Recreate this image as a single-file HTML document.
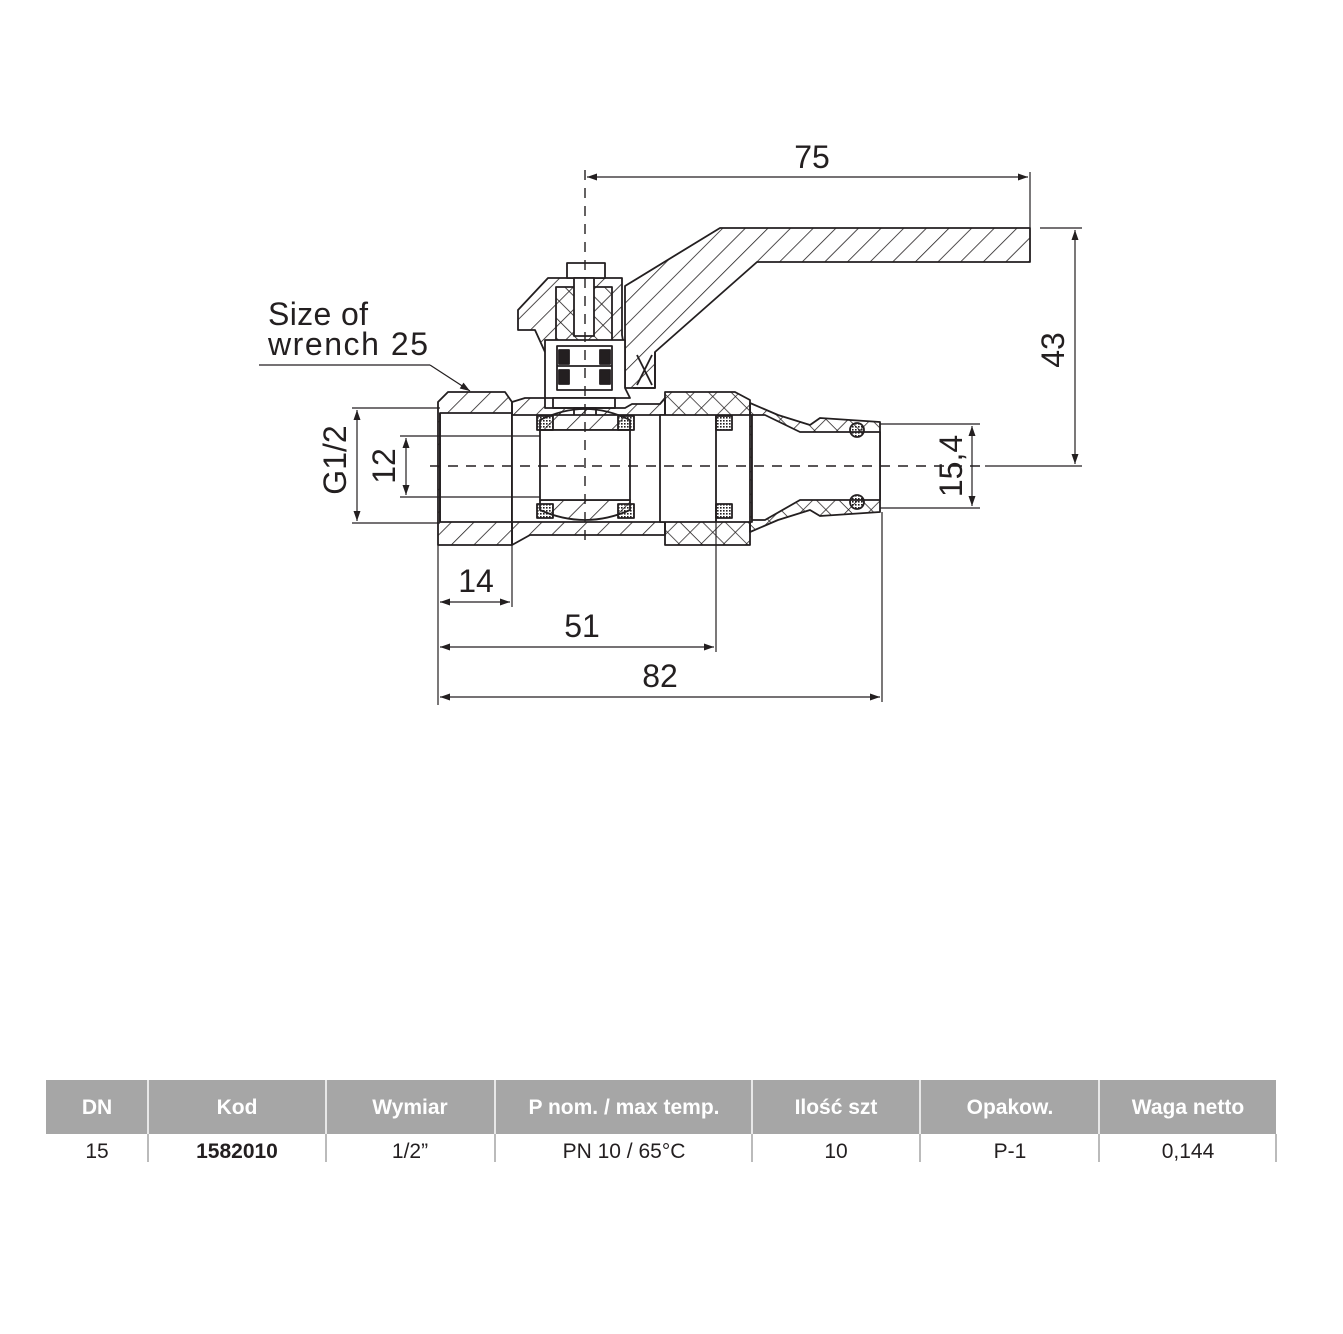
<!DOCTYPE html>
<html><head><meta charset="utf-8"><style>
html,body{margin:0;padding:0;background:#fff;}
svg{display:block;}
.t{font-family:"Liberation Sans",sans-serif;fill:#231f20;}
</style></head><body>
<svg width="1343" height="1334" viewBox="0 0 1343 1334" xmlns="http://www.w3.org/2000/svg">
<defs>
<pattern id="h" width="16" height="16" patternUnits="userSpaceOnUse" patternTransform="rotate(45)"><line x1="0" y1="0" x2="0" y2="16" stroke="#231f20" stroke-width="1.6"/></pattern>
<pattern id="h2" width="14" height="14" patternUnits="userSpaceOnUse" patternTransform="rotate(-45)"><line x1="0" y1="0" x2="0" y2="14" stroke="#231f20" stroke-width="1.6"/></pattern>
<pattern id="x" width="16" height="16" patternUnits="userSpaceOnUse" patternTransform="rotate(45)"><line x1="0" y1="0" x2="0" y2="16" stroke="#231f20" stroke-width="1.5"/><line x1="0" y1="0" x2="16" y2="0" stroke="#231f20" stroke-width="1.5"/></pattern>
<pattern id="d" width="3" height="3" patternUnits="userSpaceOnUse"><rect width="1.6" height="1.6" fill="#231f20"/></pattern>
<marker id="a" viewBox="0 0 10 10" refX="10" refY="5" markerWidth="14" markerHeight="10" markerUnits="userSpaceOnUse" orient="auto-start-reverse"><path d="M0,1.5 L10,5 L0,8.5 Z" fill="#231f20"/></marker>
</defs>
<g stroke="#231f20" stroke-width="1.8" fill="none" stroke-linejoin="round">
<path d="M625,286 L720,228 L1030,228 L1030,262 L757,262 L655,352 L655,388 L625,388 L625,352 Z" fill="url(#h)"/>
<path d="M633,388 L655,388 L655,352" />
<line x1="637" y1="355" x2="652" y2="385"/><line x1="652" y1="355" x2="637" y2="385"/>
<path d="M518,310 L548,278 L622,278 L622,335 L625,352 L545,352 L535,330 L518,330 Z" fill="url(#h)"/>
<rect x="567" y="263" width="38" height="15" fill="#fff"/>
<rect x="556" y="287" width="56" height="56" fill="url(#h2)"/>
<rect x="574" y="278" width="20" height="58" fill="#fff"/>
<path d="M545,340 L625,340 L625,388 L630,398 L545,398 Z" fill="#fff"/>
<rect x="557" y="346" width="55" height="44" fill="#fff"/>
<rect x="559" y="350" width="10" height="14" fill="#231f20"/><rect x="600" y="350" width="10" height="14" fill="#231f20"/>
<rect x="559" y="370" width="10" height="14" fill="#231f20"/><rect x="600" y="370" width="10" height="14" fill="#231f20"/>
<line x1="557" y1="366" x2="612" y2="366"/>
<rect x="553" y="398" width="62" height="10" fill="#fff"/>
<rect x="574" y="408" width="22" height="22" fill="#fff"/>
<path d="M438,402 L448,392 L505,392 L512,402 L512,545 L438,545 Z" fill="url(#h)"/>
<rect x="440" y="413" width="72" height="109" fill="#fff"/>
<path d="M512,402 L525,398 L545,398 L545,408 L625,408 L632,404 L660,404 L665,398 L665,535 L530,535 L512,545 Z" fill="url(#h)"/>
<rect x="512" y="415" width="153" height="107" fill="#fff"/>
<path d="M540,420 Q585,398 630,420 L630,430 L540,430 Z" fill="url(#h)"/>
<path d="M540,510 Q585,530 630,510 L630,500 L540,500 Z" fill="url(#h)"/>
<rect x="540" y="430" width="90" height="70" fill="#fff"/>
<rect x="537" y="416" width="16" height="14" fill="url(#d)"/><rect x="618" y="416" width="16" height="14" fill="url(#d)"/>
<rect x="537" y="504" width="16" height="14" fill="url(#d)"/><rect x="618" y="504" width="16" height="14" fill="url(#d)"/>
<path d="M665,392 L735,392 L750,400 L750,545 L665,545 Z" fill="url(#x)"/>
<rect x="660" y="415" width="92" height="107" fill="#fff"/>
<rect x="716" y="416" width="16" height="14" fill="url(#d)"/><rect x="716" y="504" width="16" height="14" fill="url(#d)"/>
<path d="M750,403 L778,415 L810,425 L820,418 L880,422 L880,512 L820,516 L810,510 L778,520 L750,532 Z" fill="url(#x)"/>
<path d="M752,415 L765,415 L800,432 L880,432 L880,500 L800,500 L765,520 L752,520 Z" fill="#fff"/>
<circle cx="857" cy="430" r="7" fill="url(#d)"/><circle cx="857" cy="502" r="7" fill="url(#d)"/>
<line x1="440" y1="413" x2="440" y2="522"/>
<line x1="716" y1="415" x2="716" y2="522"/>
</g>
<g stroke="#231f20" stroke-width="1.4" stroke-dasharray="10,8">
<line x1="430" y1="466" x2="985" y2="466"/>
<line x1="585" y1="170" x2="585" y2="548"/>
</g>
<g stroke="#231f20" stroke-width="1.2" fill="none">
<line x1="1030" y1="172" x2="1030" y2="228"/>
<line x1="587" y1="177" x2="1028" y2="177" marker-start="url(#a)" marker-end="url(#a)"/>
<line x1="1040" y1="228" x2="1082" y2="228"/>
<line x1="985" y1="466" x2="1082" y2="466"/>
<line x1="1075" y1="230" x2="1075" y2="464" marker-start="url(#a)" marker-end="url(#a)"/>
<line x1="880" y1="424" x2="980" y2="424"/>
<line x1="880" y1="508" x2="980" y2="508"/>
<line x1="972" y1="426" x2="972" y2="506" marker-start="url(#a)" marker-end="url(#a)"/>
<line x1="352" y1="408" x2="440" y2="408"/>
<line x1="352" y1="523" x2="440" y2="523"/>
<line x1="357" y1="410" x2="357" y2="521" marker-start="url(#a)" marker-end="url(#a)"/>
<line x1="400" y1="436" x2="540" y2="436"/>
<line x1="400" y1="497" x2="540" y2="497"/>
<line x1="406" y1="438" x2="406" y2="495" marker-start="url(#a)" marker-end="url(#a)"/>
<line x1="438" y1="545" x2="438" y2="705"/>
<line x1="512" y1="545" x2="512" y2="607"/>
<line x1="716" y1="520" x2="716" y2="652"/>
<line x1="882" y1="512" x2="882" y2="702"/>
<line x1="440" y1="602" x2="510" y2="602" marker-start="url(#a)" marker-end="url(#a)"/>
<line x1="440" y1="647" x2="714" y2="647" marker-start="url(#a)" marker-end="url(#a)"/>
<line x1="440" y1="697" x2="880" y2="697" marker-start="url(#a)" marker-end="url(#a)"/>
<polyline points="259,365 430,365" />
<line x1="430" y1="365" x2="470" y2="391" marker-end="url(#a)"/>
</g>
<g class="t" font-size="32">
<text x="812" y="168" text-anchor="middle">75</text>
<text x="476" y="592" text-anchor="middle">14</text>
<text x="582" y="637" text-anchor="middle">51</text>
<text x="660" y="687" text-anchor="middle">82</text>
<text x="268" y="325" textLength="100">Size of</text>
<text x="268" y="355" textLength="160">wrench 25</text>
<text transform="translate(1064,350) rotate(-90)" text-anchor="middle">43</text>
<text transform="translate(962,466) rotate(-90)" text-anchor="middle">15,4</text>
<text transform="translate(346,460) rotate(-90)" text-anchor="middle">G1/2</text>
<text transform="translate(395,466) rotate(-90)" text-anchor="middle">12</text>
</g>
<rect x="46" y="1080" width="1230" height="54" fill="#a6a6a6"/>
<g stroke="#fff" stroke-width="1.5">
<line x1="148" y1="1080" x2="148" y2="1134"/><line x1="326" y1="1080" x2="326" y2="1134"/><line x1="495" y1="1080" x2="495" y2="1134"/><line x1="752" y1="1080" x2="752" y2="1134"/><line x1="920" y1="1080" x2="920" y2="1134"/><line x1="1099" y1="1080" x2="1099" y2="1134"/>
</g>
<g stroke="#777" stroke-width="1">
<line x1="148" y1="1134" x2="148" y2="1162"/><line x1="326" y1="1134" x2="326" y2="1162"/><line x1="495" y1="1134" x2="495" y2="1162"/><line x1="752" y1="1134" x2="752" y2="1162"/><line x1="920" y1="1134" x2="920" y2="1162"/><line x1="1099" y1="1134" x2="1099" y2="1162"/><line x1="1276" y1="1134" x2="1276" y2="1162"/>
</g>
<g font-family="Liberation Sans, sans-serif" font-size="21" text-anchor="middle" fill="#fff" font-weight="bold">
<text x="97" y="1114">DN</text><text x="237" y="1114">Kod</text><text x="410" y="1114">Wymiar</text><text x="624" y="1114">P nom. / max temp.</text><text x="836" y="1114">Ilość szt</text><text x="1010" y="1114">Opakow.</text><text x="1188" y="1114">Waga netto</text>
</g>
<g font-family="Liberation Sans, sans-serif" font-size="21" text-anchor="middle" fill="#231f20">
<text x="97" y="1158">15</text><text x="237" y="1158" font-weight="bold">1582010</text><text x="410" y="1158">1/2”</text><text x="624" y="1158">PN 10 / 65°C</text><text x="836" y="1158">10</text><text x="1010" y="1158">P-1</text><text x="1188" y="1158">0,144</text>
</g>
</svg>
</body></html>
